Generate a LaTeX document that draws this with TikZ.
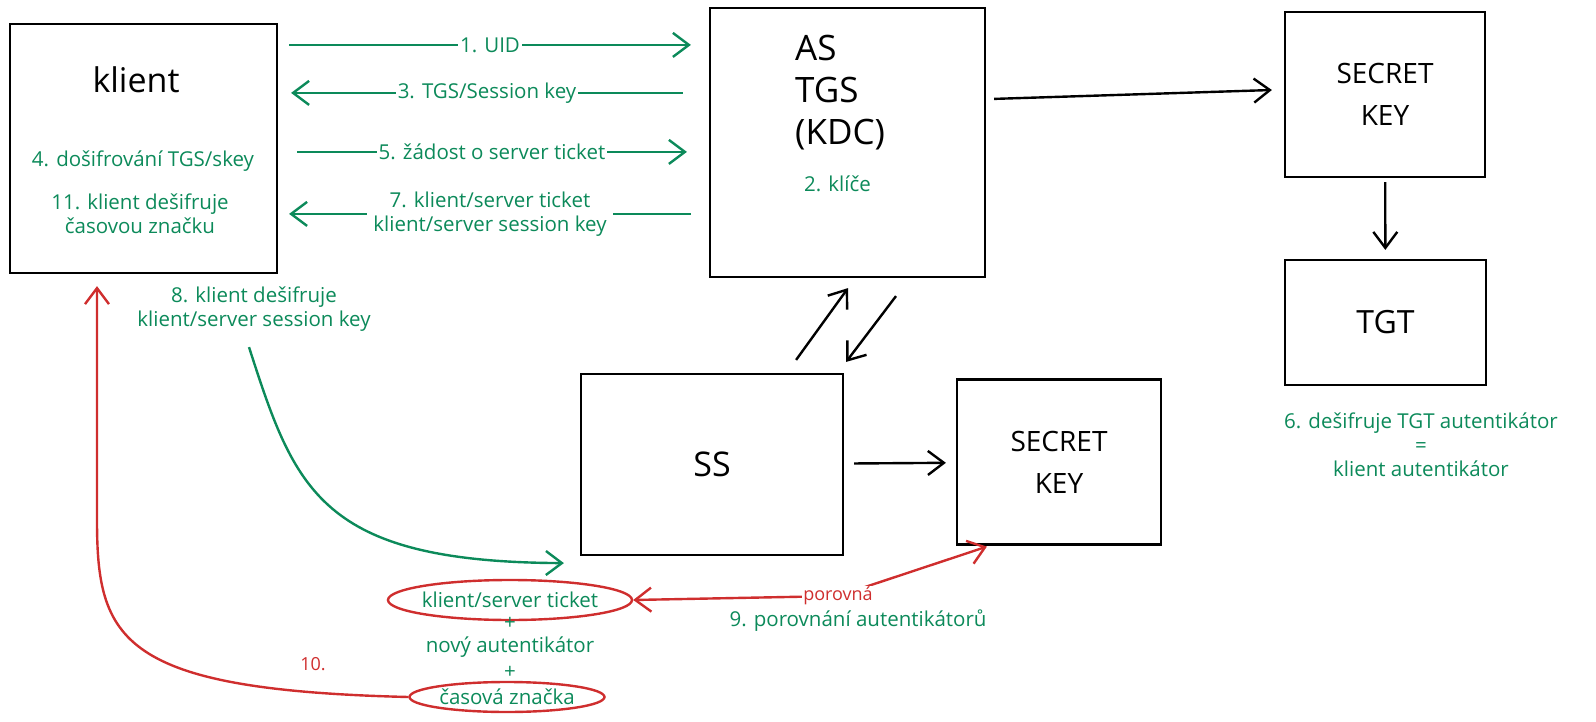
\documentclass[tikz,border=0pt]{standalone}
\usepackage{fontspec}
\setmainfont{Open Sans}
\usetikzlibrary{arrows.meta,shapes.geometric,calc}
\definecolor{grn}{HTML}{0C8A5A}
\definecolor{rd}{HTML}{CF2E2E}
\newcommand{\bigf}{\fontsize{28}{42}\selectfont}
\newcommand{\grf}{\fontsize{20.5}{24}\selectfont}
\tikzset{
  box/.style={draw=black, line width=2.2pt, inner sep=0pt, align=center, font=\bigf},
  gtext/.style={text=grn, font=\grf, align=center, inner sep=1pt},
  btext/.style={text=black, font=\bigf, align=center, inner sep=0pt},
  garrow/.style={draw=grn, line width=2.4pt, -{Straight Barb[length=16pt,width=24pt]}},
  barrow/.style={draw=black, line width=2.4pt, -{Straight Barb[length=16pt,width=24pt]}},
  rarrow/.style={draw=rd, line width=2.4pt},
  glabel/.style={fill=white, text=grn, font=\grf, align=center, inner sep=2pt},
  roval/.style={ellipse, draw=rd, line width=2.4pt, text=grn, font=\grf, inner sep=0pt}
}
\begin{document}
\begin{tikzpicture}[x=1pt,y=-1pt]
\useasboundingbox (0,0) rectangle (1596,722);
% boxes
\node[box, minimum width=267, minimum height=249] (klient) at (143.5,148.5) {};
\node[box, minimum width=275, minimum height=269] (as) at (847.5,142.5) {};
\node[box, minimum width=200, minimum height=165] (sk1) at (1385,94.5) {SECRET\\KEY};
\node[box, minimum width=201, minimum height=125, font=\fontsize{32}{42}\selectfont] (tgt) at (1385.5,322.5) {TGT};
\node[box, minimum width=262, minimum height=181, font=\fontsize{34}{42}\selectfont] (ss) at (712,464.5) {SS};
\node[box, minimum width=204, minimum height=165] (sk2) at (1059,462) {SECRET\\KEY};
% texts in boxes
\node[btext, font=\fontsize{34}{42}\selectfont] (klientt) at (136,80) {klient};
\node[gtext] (t4) at (143,161) {4. došifrování TGS/skey};
\node[gtext] (t11) at (140,214) {11. klient dešifruje\\časovou značku};
\node[btext, align=left, anchor=west, font=\fontsize{35}{42}\selectfont] (ast) at (795,93) {AS\\TGS\\(KDC)};
\node[gtext, anchor=west] (t2) at (803,184) {2. klíče};
% free texts
\node[gtext] (t8) at (254,309) {8. klient dešifruje\\klient/server session key};
\node[gtext] (t6) at (1421,445) {6. dešifruje TGT autentikátor\\=\\klient autentikátor};
\node[gtext] (t9) at (858,621) {9. porovnání autentikátorů};
% ellipses and plus lines
\node[roval, minimum width=244, minimum height=40] (ticket) at (510,600) {\makebox[0pt]{klient/server ticket}};
\node[gtext] (plus1) at (510,623) {+};
\node[gtext] (novy) at (510,647) {nový autentikátor};
\node[gtext] (plus2) at (510,672) {+};
\node[roval, minimum width=195, minimum height=30] (znacka) at (507,697) {\makebox[0pt]{časová značka}};
% green arrows klient <-> AS
\draw[garrow] ($(klient.north east)+(11,22)$) -- node[glabel] (l1) {1. UID} ($(as.north west)+(-18,38)$);
\draw[garrow] ($(as.north west)+(-26,86)$) -- node[glabel] (l3) {3. TGS/Session key} ($(klient.north east)+(13,70)$);
\draw[garrow] ($(klient.north east)+(19,129)$) -- node[glabel] (l5) {5. žádost o server ticket} ($(as.north west)+(-22,145)$);
\draw[garrow] ($(as.north west)+(-18,207)$) -- node[glabel, inner xsep=6pt] (l7) {7. klient/server ticket\\klient/server session key} ($(klient.north east)+(11,191)$);
% black arrows
\draw[barrow] ($(as.north east)+(8,92)$) -- ($(sk1.west)+(-12,-4.5)$);
\draw[barrow, shorten <=4, shorten >=9] (sk1) -- (tgt);
\draw[barrow, shorten <=10, shorten >=10] (ss) -- (sk2);
\draw[barrow] ($(ss.north east)+(-48,-13)$) -- ($(as.south)+(0.5,10)$);
\draw[barrow] ($(as.south)+(48.5,18)$) -- ($(ss.north east)+(2,-11)$);
% green curve 8
\draw[garrow] ($(klient.south)+(105.5,73)$) .. controls (295,490) and (320,562) .. ($(ss.south west)+(-16,7)$);
% red compare arrow
\coordinate (bend) at (838,596);
\draw[rarrow, {Straight Barb[length=16pt,width=24pt]}-{Straight Barb[length=16pt,width=24pt]}] (ticket.east) -- (bend) -- ($(sk2.south west)+(31,1)$);
\node[fill=white, text=rd, font=\fontsize{18}{22}\selectfont, inner sep=1pt] (porovna) at (bend) {porovná};
% red arrow 10
\draw[rarrow, -{Straight Barb[length=16pt,width=24pt]}] (znacka.west) .. controls (120,690) and (97,640) .. (97,520) -- ($(klient.south)+(-46.5,12)$);
\node[text=rd, font=\fontsize{18}{22}\selectfont] (l10) at (313,664) {10.};
\end{tikzpicture}
\end{document}
